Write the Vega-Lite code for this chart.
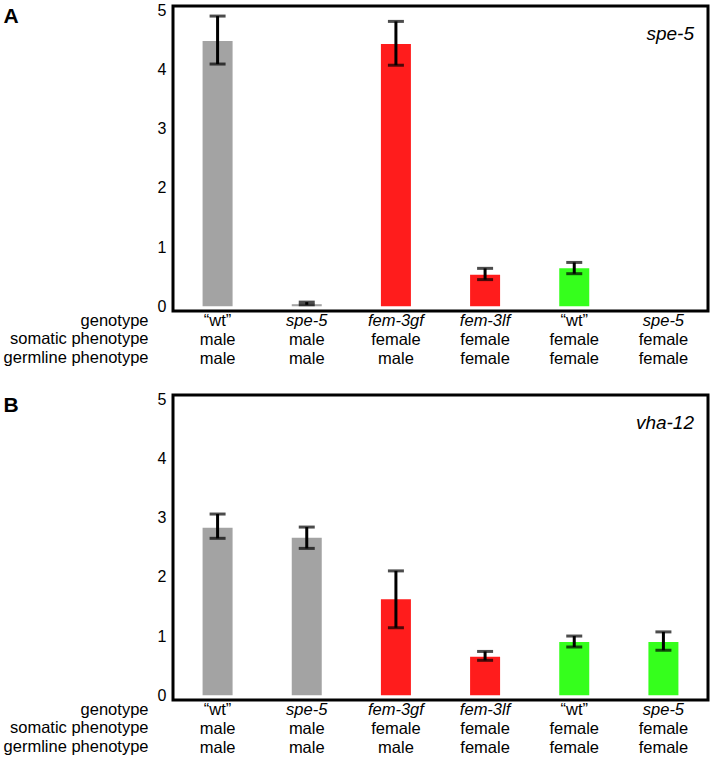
{
  "$schema": "https://vega.github.io/schema/vega-lite/v6.json",
  "padding": {"left": 1, "top": 0, "right": 3, "bottom": 0},
  "spacing": 21,
  "config": {
    "font": "Liberation Sans",
    "view": {"stroke": "black", "strokeWidth": 3},
    "axis": {"labelColor": "black", "titleColor": "black", "grid": false, "ticks": false, "domain": false}
  },
  "datasets": {
    "A": [
      {"col": 1, "label": "“wt”|male|male", "gene": "spe-5", "group": "male", "mean": 4.48, "lo": 4.09, "hi": 4.90},
      {"col": 2, "label": "spe-5|male|male", "gene": "spe-5", "group": "male", "mean": 0.035, "lo": 0.025, "hi": 0.07},
      {"col": 3, "label": "fem-3gf|female|male", "gene": "spe-5", "group": "fem3", "mean": 4.43, "lo": 4.07, "hi": 4.81},
      {"col": 4, "label": "fem-3lf|female|female", "gene": "spe-5", "group": "fem3", "mean": 0.53, "lo": 0.45, "hi": 0.64},
      {"col": 5, "label": "“wt”|female|female", "gene": "spe-5", "group": "female", "mean": 0.64, "lo": 0.55, "hi": 0.74},
      {"col": 6, "label": "spe-5|female|female", "gene": "spe-5", "group": "female", "mean": 0, "lo": null, "hi": null}
    ],
    "B": [
      {"col": 1, "label": "“wt”|male|male", "gene": "vha-12", "group": "male", "mean": 2.83, "lo": 2.65, "hi": 3.06},
      {"col": 2, "label": "spe-5|male|male", "gene": "vha-12", "group": "male", "mean": 2.66, "lo": 2.48, "hi": 2.84},
      {"col": 3, "label": "fem-3gf|female|male", "gene": "vha-12", "group": "fem3", "mean": 1.62, "lo": 1.14, "hi": 2.10},
      {"col": 4, "label": "fem-3lf|female|female", "gene": "vha-12", "group": "fem3", "mean": 0.65, "lo": 0.59, "hi": 0.74},
      {"col": 5, "label": "“wt”|female|female", "gene": "vha-12", "group": "female", "mean": 0.90, "lo": 0.815, "hi": 1.00},
      {"col": 6, "label": "spe-5|female|female", "gene": "vha-12", "group": "female", "mean": 0.90, "lo": 0.76, "hi": 1.07}
    ]
  },
  "vconcat": [
    {
      "data": {"name": "A"},
      "width": 535,
      "height": 305,
      "resolve": {"axis": {"x": "independent"}},
      "layer": [
        {
          "mark": {"type": "bar", "size": 30},
          "encoding": {
            "x": {"field": "label", "type": "nominal", "sort": null,
              "scale": {"paddingInner": 0, "paddingOuter": 0},
              "axis": {
                "orient": "bottom",
                "labelExpr": "split(datum.value, '|')[0]",
                "labelFontStyle": {"condition": {"test": "indexof(datum.value, 'wt') >= 0", "value": "normal"}, "value": "italic"},
                "labelFontSize": 16.5, "labelAngle": 0, "labelPadding": 1, "labelBaseline": "top",
                "title": ["genotype", "somatic phenotype", "germline phenotype"],
                "titleX": -25, "titleY": 1, "titleAlign": "right", "titleBaseline": "top",
                "titleFontWeight": "normal", "titleFontSize": 16.5, "titleLineHeight": 18.8
              }
            },
            "y": {"field": "mean", "type": "quantitative",
              "scale": {"domain": [-0.08, 5.07], "nice": false, "zero": false},
              "axis": {"orient": "left", "values": [0, 1, 2, 3, 4, 5], "format": "d", "labelFontSize": 16, "labelPadding": 7,
                "title": "A", "titleAngle": 0, "titleX": -170, "titleY": 16, "titleAlign": "left",
                "titleBaseline": "alphabetic", "titleFontSize": 21, "titleFontWeight": "bold"}
            },
            "y2": {"datum": 0},
            "color": {"field": "group", "type": "nominal",
              "scale": {"domain": ["male", "fem3", "female"], "range": ["#a3a3a3", "#ff1c1c", "#35ff1c"]},
              "legend": null}
          }
        },
        {
          "mark": {"type": "rule", "strokeWidth": 3, "color": "black"},
          "encoding": {
            "x": {"field": "label", "type": "nominal", "sort": null,
              "axis": {
                "orient": "bottom",
                "labelExpr": "slice(split(datum.value, '|'), 1)",
                "labelFontSize": 16.5, "labelAngle": 0, "labelPadding": 1, "labelBaseline": "top",
                "labelLineHeight": 18.5, "offset": 19.5, "title": null
              }
            },
            "y": {"field": "lo", "type": "quantitative"},
            "y2": {"field": "hi"}
          }
        },
        {
          "mark": {"type": "tick", "thickness": 3, "size": 16, "color": "black"},
          "encoding": {
            "x": {"field": "label", "type": "nominal", "sort": null, "axis": null},
            "y": {"field": "lo", "type": "quantitative"}
          }
        },
        {
          "mark": {"type": "tick", "thickness": 3, "size": 16, "color": "black"},
          "encoding": {
            "x": {"field": "label", "type": "nominal", "sort": null, "axis": null},
            "y": {"field": "hi", "type": "quantitative"}
          }
        },
        {
          "transform": [{"filter": "datum.col == 6"}],
          "mark": {"type": "text", "align": "right", "baseline": "middle", "fontStyle": "italic", "fontSize": 19, "dx": -14, "color": "black"},
          "encoding": {
            "x": {"field": "label", "type": "nominal", "sort": null, "bandPosition": 1, "axis": null},
            "y": {"datum": 4.6},
            "text": {"field": "gene"}
          }
        }
      ]
    },
    {
      "data": {"name": "B"},
      "width": 535,
      "height": 305,
      "resolve": {"axis": {"x": "independent"}},
      "layer": [
        {
          "mark": {"type": "bar", "size": 30},
          "encoding": {
            "x": {"field": "label", "type": "nominal", "sort": null,
              "scale": {"paddingInner": 0, "paddingOuter": 0},
              "axis": {
                "orient": "bottom",
                "labelExpr": "split(datum.value, '|')[0]",
                "labelFontStyle": {"condition": {"test": "indexof(datum.value, 'wt') >= 0", "value": "normal"}, "value": "italic"},
                "labelFontSize": 16.5, "labelAngle": 0, "labelPadding": 1, "labelBaseline": "top",
                "title": ["genotype", "somatic phenotype", "germline phenotype"],
                "titleX": -25, "titleY": 1, "titleAlign": "right", "titleBaseline": "top",
                "titleFontWeight": "normal", "titleFontSize": 16.5, "titleLineHeight": 18.8
              }
            },
            "y": {"field": "mean", "type": "quantitative",
              "scale": {"domain": [-0.08, 5.07], "nice": false, "zero": false},
              "axis": {"orient": "left", "values": [0, 1, 2, 3, 4, 5], "format": "d", "labelFontSize": 16, "labelPadding": 7,
                "title": "B", "titleAngle": 0, "titleX": -170, "titleY": 16, "titleAlign": "left",
                "titleBaseline": "alphabetic", "titleFontSize": 21, "titleFontWeight": "bold"}
            },
            "y2": {"datum": 0},
            "color": {"field": "group", "type": "nominal",
              "scale": {"domain": ["male", "fem3", "female"], "range": ["#a3a3a3", "#ff1c1c", "#35ff1c"]},
              "legend": null}
          }
        },
        {
          "mark": {"type": "rule", "strokeWidth": 3, "color": "black"},
          "encoding": {
            "x": {"field": "label", "type": "nominal", "sort": null,
              "axis": {
                "orient": "bottom",
                "labelExpr": "slice(split(datum.value, '|'), 1)",
                "labelFontSize": 16.5, "labelAngle": 0, "labelPadding": 1, "labelBaseline": "top",
                "labelLineHeight": 18.5, "offset": 19.5, "title": null
              }
            },
            "y": {"field": "lo", "type": "quantitative"},
            "y2": {"field": "hi"}
          }
        },
        {
          "mark": {"type": "tick", "thickness": 3, "size": 16, "color": "black"},
          "encoding": {
            "x": {"field": "label", "type": "nominal", "sort": null, "axis": null},
            "y": {"field": "lo", "type": "quantitative"}
          }
        },
        {
          "mark": {"type": "tick", "thickness": 3, "size": 16, "color": "black"},
          "encoding": {
            "x": {"field": "label", "type": "nominal", "sort": null, "axis": null},
            "y": {"field": "hi", "type": "quantitative"}
          }
        },
        {
          "transform": [{"filter": "datum.col == 6"}],
          "mark": {"type": "text", "align": "right", "baseline": "middle", "fontStyle": "italic", "fontSize": 19, "dx": -14, "color": "black"},
          "encoding": {
            "x": {"field": "label", "type": "nominal", "sort": null, "bandPosition": 1, "axis": null},
            "y": {"datum": 4.6},
            "text": {"field": "gene"}
          }
        }
      ]
    }
  ]
}
